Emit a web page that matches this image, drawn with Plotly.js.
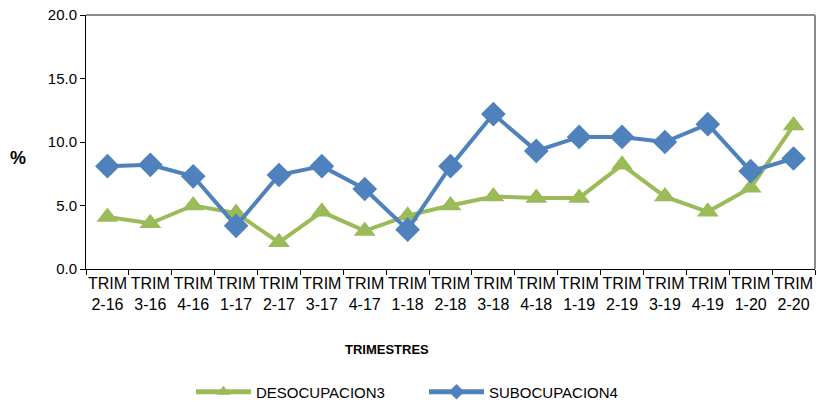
<!DOCTYPE html>
<html>
<head>
<meta charset="utf-8">
<script src="https://cdn.plot.ly/plotly-3.0.1.min.js"></script>
<style>html,body{margin:0;padding:0;background:#fff;}#chart{width:817px;height:402px;}</style>
</head>
<body>
<div id="chart"></div>
<script>
const categories = ["2-16","3-16","4-16","1-17","2-17","3-17","4-17","1-18","2-18","3-18","4-18","1-19","2-19","3-19","4-19","1-20","2-20"];
const tickLabels = categories.map(c => "TRIM<br>" + c);
const desocupacion = [4.1,3.6,5.0,4.4,2.1,4.5,3.0,4.2,5.0,5.7,5.6,5.6,8.2,5.7,4.5,6.4,11.3];
const subocupacion = [8.1,8.2,7.3,3.4,7.4,8.1,6.3,3.1,8.1,12.2,9.3,10.4,10.4,10.0,11.4,7.7,8.7];

const font = "Liberation Sans, Arial, sans-serif";
const traces = [
  {x: categories, y: desocupacion, name: "DESOCUPACION3", type: "scatter", mode: "lines+markers",
   line: {color: "#9BBB59", width: 4}, marker: {symbol: "triangle-up", size: 19, color: "#9BBB59"}},
  {x: categories, y: subocupacion, name: "SUBOCUPACION4", type: "scatter", mode: "lines+markers",
   line: {color: "#4F81BD", width: 4}, marker: {symbol: "diamond", size: 19, color: "#4F81BD"}}
];
const layout = {
  width: 817, height: 402,
  margin: {l: 86, r: 2, t: 15, b: 133, autoexpand: false},
  paper_bgcolor: "#fff", plot_bgcolor: "#fff",
  font: {family: font, color: "#000", size: 14},
  showlegend: true,
  legend: {orientation: "h", xref: "container", yref: "container", x: 191/817, xanchor: "left",
           y: 10/402, yanchor: "middle",
           font: {size: 15, family: font}, itemwidth: 55, entrywidth: 163, itemsizing: "constant"},
  xaxis: {type: "category", tickvals: categories, ticktext: tickLabels, tickson: "boundaries", tickangle: 0,
          range: [-0.5, 16.5], automargin: false,
          ticks: "outside", ticklen: 5, tickcolor: "#000", showline: true, linecolor: "#000", linewidth: 1,
          showgrid: false, zeroline: false, tickfont: {size: 16, family: font}},
  yaxis: {range: [0, 20], tickvals: [0,5,10,15,20], ticktext: ["0.0","5.0","10.0","15.0","20.0"],
          automargin: false,
          ticks: "outside", ticklen: 5, tickcolor: "#000", showline: true, linecolor: "#000", linewidth: 1,
          showgrid: false, zeroline: false, tickfont: {size: 15, family: font}},
  annotations: [
    {text: "<b>%</b>", xref: "paper", yref: "paper", x: -0.093, y: 0.437, xanchor: "center", yanchor: "middle",
     showarrow: false, font: {size: 18, family: font}},
    {text: "<b>TRIMESTRES</b>", xref: "paper", yref: "paper", x: (387-86)/729, y: (269-350)/254,
     xanchor: "center", yanchor: "middle", showarrow: false, font: {size: 13, family: font}}
  ],
  shapes: [
    {type: "line", xref: "paper", yref: "paper", x0: 0, x1: 1, y0: 1, y1: 1, line: {color: "#8c8c8c", width: 2}},
    {type: "line", xref: "paper", yref: "paper", x0: 1, x1: 1, y0: 0, y1: 1, line: {color: "#8c8c8c", width: 2}}
  ]
};
Plotly.newPlot("chart", traces, layout, {displayModeBar: false, staticPlot: true});
</script>
</body>
</html>
